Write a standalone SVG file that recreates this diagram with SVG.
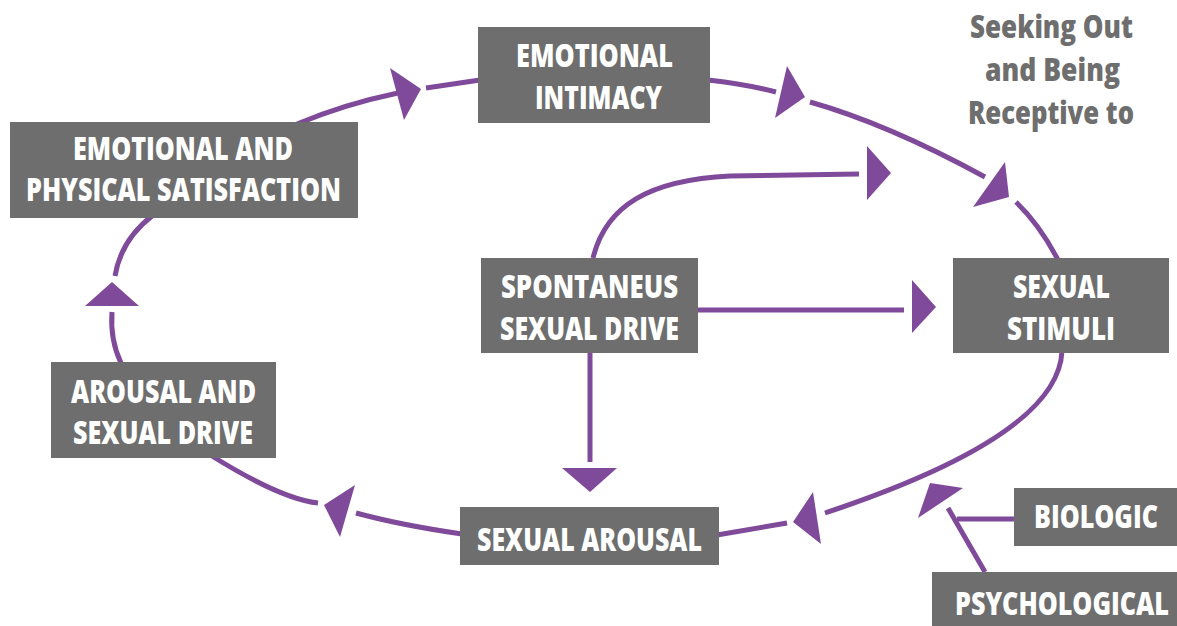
<svg xmlns="http://www.w3.org/2000/svg" width="1177" height="626" viewBox="0 0 1177 626">
  <style>
    .box { fill: #6e6e6e; }
    .lbl { fill: #ffffff; font-family: "Open Sans", "Liberation Sans", sans-serif; font-weight: 800; font-size: 31px; }
    .note { fill: #6e6e6e; font-family: "Open Sans", "Liberation Sans", sans-serif; font-weight: 800; font-size: 31px; }
    .line { fill: none; stroke: #804a9b; stroke-width: 5; }
    .head { fill: #804a9b; }
  </style>
  <rect width="1177" height="626" fill="#ffffff"/>

  <!-- connectors: the outer cycle and the side inputs -->
  <g id="connectors">
    <path class="line" d="M297,124 Q345,104 398,93"/>
    <polygon class="head" points="390,68 404,120 421,89"/>
    <path class="line" d="M426,88 L480,80"/>

    <path class="line" d="M708,80 Q745,84 776,92"/>
    <polygon class="head" points="787,66 775,118 805,97"/>
    <path class="line" d="M810,102 Q888,124 985,177"/>
    <polygon class="head" points="1005,162 973,207 1009,197"/>
    <path class="line" d="M1016,202 Q1040,225 1058,260"/>

    <path class="line" d="M1062,351 C1060,400 1000,455 825,513"/>
    <polygon class="head" points="813,492 821,544 793,522"/>
    <path class="line" d="M787,523 L717,535"/>

    <path class="line" d="M462,534 Q400,525 356,513"/>
    <polygon class="head" points="355,485 340,537 324,505"/>
    <path class="line" d="M318,503 Q281,499 212,456"/>

    <path class="line" d="M121,363 Q110,340 112,312"/>
    <polygon class="head" points="85,306 139,306 112,282"/>
    <path class="line" d="M115,276 Q121,240 152,216"/>

    <!-- spontaneous drive outputs -->
    <path class="line" d="M593,258 C606,205 650,180 730,176 L859,174"/>
    <polygon class="head" points="867,146 867,200 891,173"/>
    <path class="line" d="M697,310 L904,310"/>
    <polygon class="head" points="912,280 912,333 936,307"/>
    <path class="line" d="M590,353 L590,462"/>
    <polygon class="head" points="562,468 617,468 590,492"/>

    <!-- biologic and psychological inputs -->
    <path class="line" d="M1014,519 L957,519"/>
    <path class="line" d="M985,572 L948,508"/>
    <polygon class="head" points="930,483 963,488 918,518"/>
  </g>

  <g id="emotional-intimacy">
    <rect class="box" x="478" y="27" width="232" height="96"/>
    <text class="lbl" x="516" y="67" textLength="157" lengthAdjust="spacingAndGlyphs">EMOTIONAL</text>
    <text class="lbl" x="535" y="109" textLength="127" lengthAdjust="spacingAndGlyphs">INTIMACY</text>
  </g>

  <g id="satisfaction">
    <rect class="box" x="10" y="122" width="348" height="96"/>
    <text class="lbl" x="73" y="160" textLength="220" lengthAdjust="spacingAndGlyphs">EMOTIONAL AND</text>
    <text class="lbl" x="26" y="201" textLength="315" lengthAdjust="spacingAndGlyphs">PHYSICAL SATISFACTION</text>
  </g>

  <g id="arousal-drive">
    <rect class="box" x="51" y="362" width="225" height="96"/>
    <text class="lbl" x="71" y="403" textLength="185" lengthAdjust="spacingAndGlyphs">AROUSAL AND</text>
    <text class="lbl" x="73" y="444" textLength="180" lengthAdjust="spacingAndGlyphs">SEXUAL DRIVE</text>
  </g>

  <g id="spontaneous-drive">
    <rect class="box" x="481" y="258" width="217" height="95"/>
    <text class="lbl" x="501" y="298" textLength="177" lengthAdjust="spacingAndGlyphs">SPONTANEUS</text>
    <text class="lbl" x="500" y="340" textLength="179" lengthAdjust="spacingAndGlyphs">SEXUAL DRIVE</text>
  </g>

  <g id="sexual-stimuli">
    <rect class="box" x="953" y="258" width="216" height="95"/>
    <text class="lbl" x="1013" y="298" textLength="97" lengthAdjust="spacingAndGlyphs">SEXUAL</text>
    <text class="lbl" x="1007" y="340" textLength="108" lengthAdjust="spacingAndGlyphs">STIMULI</text>
  </g>

  <g id="sexual-arousal">
    <rect class="box" x="460" y="507" width="259" height="58"/>
    <text class="lbl" x="477" y="551" textLength="225" lengthAdjust="spacingAndGlyphs">SEXUAL AROUSAL</text>
  </g>

  <g id="biologic">
    <rect class="box" x="1014" y="488" width="163" height="58"/>
    <text class="lbl" x="1034" y="528" textLength="124" lengthAdjust="spacingAndGlyphs">BIOLOGIC</text>
  </g>

  <g id="psychological">
    <rect class="box" x="932" y="572" width="245" height="54"/>
    <text class="lbl" x="955" y="615" textLength="214" lengthAdjust="spacingAndGlyphs">PSYCHOLOGICAL</text>
  </g>

  <g id="seeking-note">
    <text class="note" x="970" y="38" textLength="163" lengthAdjust="spacingAndGlyphs">Seeking Out</text>
    <text class="note" x="985" y="81" textLength="135" lengthAdjust="spacingAndGlyphs">and Being</text>
    <text class="note" x="968" y="124" textLength="166" lengthAdjust="spacingAndGlyphs">Receptive to</text>
  </g>
</svg>
